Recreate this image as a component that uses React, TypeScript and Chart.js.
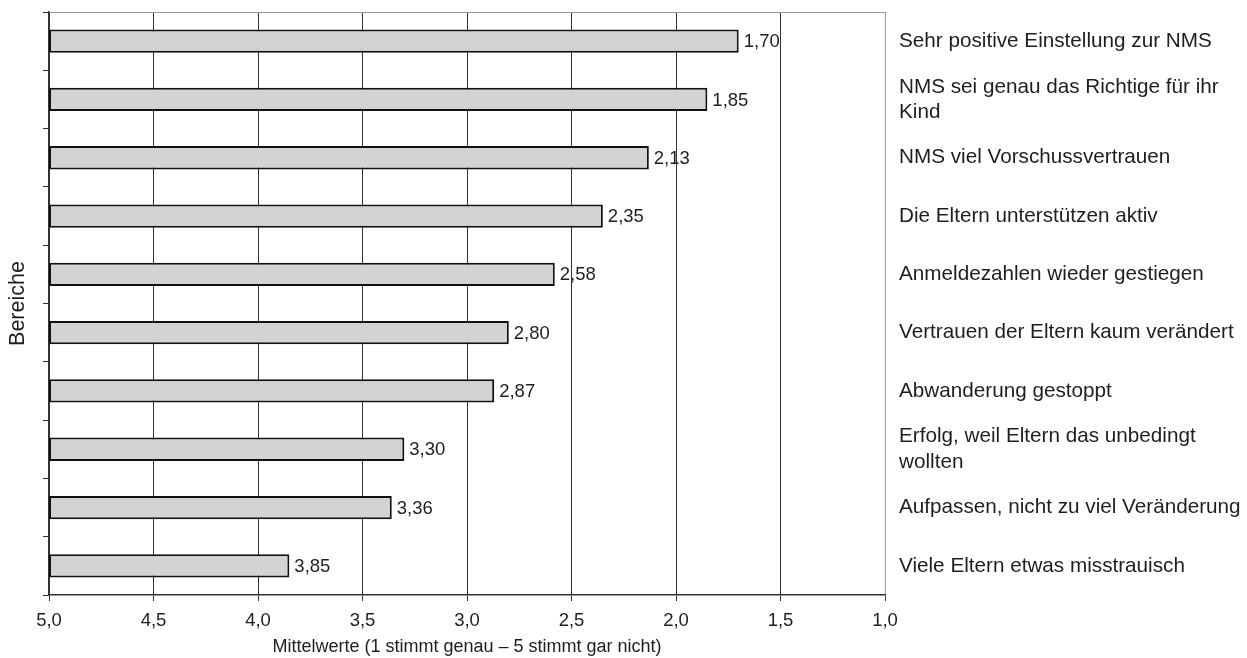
import React, { useEffect, useRef } from "react";
import { Chart, registerables } from "chart.js";

Chart.register(...registerables);

const categories: (string | string[])[] = [
  "Sehr positive Einstellung zur NMS",
  ["NMS sei genau das Richtige für ihr", "Kind"],
  "NMS viel Vorschussvertrauen",
  "Die Eltern unterstützen aktiv",
  "Anmeldezahlen wieder gestiegen",
  "Vertrauen der Eltern kaum verändert",
  "Abwanderung gestoppt",
  ["Erfolg, weil Eltern das unbedingt", "wollten"],
  "Aufpassen, nicht zu viel Veränderung",
  "Viele Eltern etwas misstrauisch",
];

const meanValues: number[] = [1.7, 1.85, 2.13, 2.35, 2.58, 2.8, 2.87, 3.3, 3.36, 3.85];

const scaleStart = 5;
const scaleEnd = 1;

const xTitle = "Mittelwerte (1 stimmt genau – 5 stimmt gar nicht)";
const yTitle = "Bereiche";

const FONT = "'Liberation Sans', Arial, sans-serif";
const TEXT = "#1e1e1e";

const fmt = (v: number, d: number) => v.toFixed(d).replace(".", ",");

const valueLabels = {
  id: "valueLabels",
  afterDatasetsDraw(chart: any) {
    const ctx = chart.ctx;
    const xs = chart.scales.x;
    const meta = chart.getDatasetMeta(0);
    ctx.save();
    ctx.font = `18.5px ${FONT}`;
    ctx.fillStyle = TEXT;
    ctx.textAlign = "left";
    ctx.textBaseline = "middle";
    meta.data.forEach((el: any, i: number) => {
      const v = meanValues[i];
      const px = xs.getPixelForValue(v);
      ctx.fillText(fmt(v, 2), px + 5, el.y + 1);
    });
    ctx.restore();
  },
};

export default function App() {
  const ref = useRef<HTMLCanvasElement | null>(null);

  useEffect(() => {
    if (!ref.current) return;
    const chart = new Chart(ref.current, {
      type: "bar",
      data: {
        labels: categories as any,
        datasets: [
          {
            data: meanValues.map((v) => [scaleStart, v]) as any,
            backgroundColor: "#d3d3d5",
            borderColor: "#111",
            borderWidth: 2,
            borderSkipped: false,
            barPercentage: 0.4,
            categoryPercentage: 1,
          },
        ],
      },
      options: {
        indexAxis: "y",
        animation: false,
        responsive: false,
        maintainAspectRatio: false,
        layout: { padding: { top: 12, left: 0, right: 0, bottom: 0 } },
        plugins: {
          legend: { display: false },
          tooltip: { enabled: false },
          title: { display: false },
        },
        scales: {
          x: {
            type: "linear",
            position: "bottom",
            min: scaleEnd,
            max: scaleStart,
            reverse: true,
            ticks: {
              stepSize: 0.5,
              padding: 9,
              color: TEXT,
              font: { family: FONT, size: 18.5 },
              callback: (v: any) => fmt(Number(v), 1),
            },
            grid: {
              color: (c: any) => (c.tick && c.tick.value === scaleEnd ? "#9a9a9a" : "#333"),
              tickColor: "#333",
              lineWidth: 1,
              tickLength: 6,
            },
            border: { color: "#333", width: 1.5 },
            title: {
              display: true,
              text: xTitle,
              color: TEXT,
              font: { family: FONT, size: 18 },
              padding: { top: 0, bottom: 0 },
            },
            afterFit: (s: any) => {
              s.height = 63;
              s.paddingLeft = 0;
              s.paddingRight = 0;
            },
          },
          y: {
            type: "category",
            position: "left",
            offset: true,
            ticks: { display: false },
            grid: {
              offset: true,
              drawOnChartArea: true,
              color: (c: any) => (c.index === 0 ? "#9a9a9a" : "rgba(0,0,0,0)"),
              tickColor: "#333",
              tickLength: 6,
            },
            border: { color: "#333", width: 1.5 },
            title: {
              display: true,
              text: yTitle,
              color: TEXT,
              font: { family: FONT, size: 21.5 },
              padding: { top: 5, bottom: 0 },
            },
            afterFit: (s: any) => {
              s.width = 49;
              s.paddingTop = 0;
              s.paddingBottom = 0;
            },
          },
          y2: {
            type: "category",
            position: "right",
            offset: true,
            labels: categories as any,
            ticks: {
              padding: 14,
              color: TEXT,
              font: { family: FONT, size: 20.7, lineHeight: 1.22 },
              autoSkip: false,
            },
            grid: { display: false, drawTicks: false },
            border: { display: false },
            afterFit: (s: any) => {
              s.width = 1247 - 885;
              s.paddingTop = 0;
              s.paddingBottom = 0;
            },
          },
        },
      } as any,
      plugins: [valueLabels],
    });
    return () => chart.destroy();
  }, []);

  return (
    <div style={{ position: "absolute", left: 0, top: 0, width: 1247, height: 658, background: "#fff" }}>
      <canvas ref={ref} width={1247} height={658} style={{ display: "block" }} />
    </div>
  );
}
